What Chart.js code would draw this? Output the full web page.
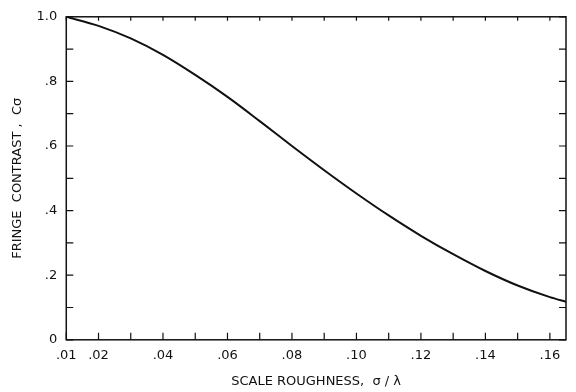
<!DOCTYPE html>
<html>
<head>
<meta charset="utf-8">
<script src="https://cdn.jsdelivr.net/npm/chart.js@4"></script>
<style>
  html, body { margin: 0; padding: 0; background: #fff; }
  #wrap { width: 576px; height: 392px; }
</style>
</head>
<body>
<div id="wrap"><canvas id="fringe-chart"></canvas></div>
<script>
// curve
const roughness = [0.01, 0.02, 0.03, 0.04, 0.05, 0.06, 0.07, 0.08, 0.09, 0.10, 0.11, 0.12, 0.13, 0.14, 0.15, 0.16, 0.165]
const contrast  = [1.0, 0.972, 0.933, 0.882, 0.82, 0.752, 0.677, 0.60, 0.525, 0.453, 0.385, 0.322, 0.265, 0.213, 0.168, 0.132, 0.118]

const xTicks = [0.01, 0.02, 0.03, 0.04, 0.05, 0.06, 0.07, 0.08, 0.09, 0.10, 0.11, 0.12, 0.13, 0.14, 0.15, 0.16]
const xLabels = [0.01, 0.02, 0.04, 0.06, 0.08, 0.10, 0.12, 0.14, 0.16]
const yTicks = [0, 0.1, 0.2, 0.3, 0.4, 0.5, 0.6, 0.7, 0.8, 0.9, 1.0]
const yLabels = [0, 0.2, 0.4, 0.6, 0.8, 1.0]

const ink = '#111'
const fontFam = "'DejaVu Sans', sans-serif"

const hasVal = (list, v) => list.some(l => Math.abs(l - v) < 1e-6)

const fmtX = v => v.toFixed(2).replace(/^0/, '')
const fmtY = v => {
    if (Math.abs(v) < 1e-6) return '0'
    if (Math.abs(v - 1) < 1e-6) return '1.0'
    return v.toFixed(1).replace(/^0/, '')
}

// frame + inward tick marks like the old paper plot
const frameTicks = {
    id: 'frameTicks',
    afterDraw(chart) {
        const { ctx, chartArea: a, scales } = chart
        ctx.save()
        ctx.strokeStyle = ink
        ctx.lineWidth = 1.5
        ctx.strokeRect(a.left, a.top, a.right - a.left, a.bottom - a.top)
        ctx.lineWidth = 1.2
        ctx.beginPath()
        xTicks.forEach(v => {
            const px = scales.x.getPixelForValue(v)
            ctx.moveTo(px, a.bottom); ctx.lineTo(px, a.bottom - 7)
            ctx.moveTo(px, a.top); ctx.lineTo(px, a.top + 4)
        })
        yTicks.forEach(v => {
            const py = scales.y.getPixelForValue(v)
            ctx.moveTo(a.left, py); ctx.lineTo(a.left + 7, py)
            ctx.moveTo(a.right, py); ctx.lineTo(a.right - 7, py)
        })
        ctx.stroke()
        ctx.restore()
    }
}

const config = {
    type: 'line',
    data: {
        datasets: [{
            data: roughness.map((x, i) => ({ x: x, y: contrast[i] })),
            borderColor: ink,
            borderWidth: 2,
            pointRadius: 0,
            fill: false,
            cubicInterpolationMode: 'monotone'
        }]
    },
    options: {
        responsive: true,
        maintainAspectRatio: false,
        animation: false,
        layout: { padding: { top: 0, right: 10, left: 10, bottom: 3 } },
        plugins: {
            legend: { display: false },
            tooltip: { enabled: false }
        },
        scales: {
            x: {
                type: 'linear',
                min: 0.01,
                max: 0.165,
                afterBuildTicks: s => { s.ticks = xTicks.map(v => ({ value: v })) },
                grid: { display: false, drawTicks: false },
                border: { display: false },
                ticks: {
                    autoSkip: false,
                    maxRotation: 0,
                    padding: 8,
                    color: ink,
                    font: { family: fontFam, size: 13 },
                    callback: v => hasVal(xLabels, v) ? fmtX(v) : ''
                },
                title: {
                    display: true,
                    text: 'SCALE ROUGHNESS,  σ / λ',
                    color: ink,
                    font: { family: fontFam, size: 13 },
                    padding: { top: 2, bottom: 0 }
                }
            },
            y: {
                min: 0,
                max: 1.0,
                afterBuildTicks: s => { s.ticks = yTicks.map(v => ({ value: v })) },
                grid: { display: false, drawTicks: false },
                border: { display: false },
                ticks: {
                    autoSkip: false,
                    padding: 9,
                    color: ink,
                    font: { family: fontFam, size: 13 },
                    callback: v => hasVal(yLabels, v) ? fmtY(v) : ''
                },
                title: {
                    display: true,
                    text: 'FRINGE  CONTRAST ,  Cσ',
                    color: ink,
                    font: { family: fontFam, size: 13 },
                    padding: { top: 0, bottom: 2 }
                }
            }
        }
    },
    plugins: [frameTicks]
}

new Chart(document.querySelector('#fringe-chart'), config)
</script>
</body>
</html>
